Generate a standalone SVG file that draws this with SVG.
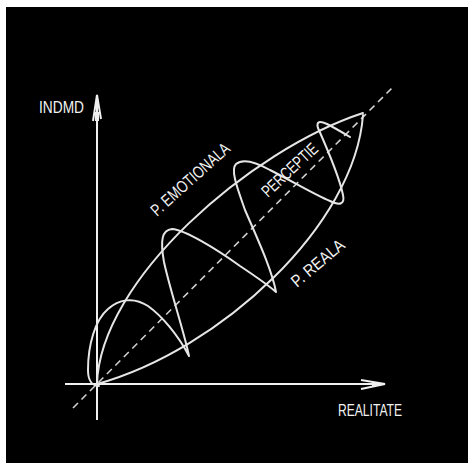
<svg xmlns="http://www.w3.org/2000/svg" width="468" height="463" viewBox="0 0 468 463">
<style>
.ax{stroke:#f0f0f0;stroke-width:2;fill:none}
.cv{stroke:#e6e6e6;stroke-width:2;fill:none;stroke-linejoin:round;stroke-linecap:round}
.ds{stroke:#d0d0d0;stroke-width:1.6;fill:none;stroke-dasharray:7 5}
.t{font-family:"Liberation Sans",Arial,sans-serif;fill:#f2f2f2}
</style>
<rect x="0" y="0" width="468" height="463" fill="#ffffff"/>
<rect x="6" y="7" width="462" height="456" fill="#000000"/>
<g id="connectors">
<line class="ds" x1="73" y1="408" x2="395" y2="85"/>
<line class="ax" x1="97" y1="96" x2="97" y2="420"/>
<line class="ax" x1="65" y1="384" x2="384" y2="384"/>
<path class="ax" d="M93,121 L97,95 L101,119" stroke-width="1.5"/>
<polygon points="95,112 99,112 99,121 95,121" fill="#f0f0f0"/>
<path class="ax" d="M361,380 L385,384 L361,389" stroke-width="1.5"/>
<polygon points="372,382 385,384 372,387" fill="#f0f0f0"/>
</g>
<g id="spindle">
<path class="cv" d="M97,384 C100,280 250,150 363,113"/>
<path class="cv" d="M97,384 C220,350 355,225 363,115"/>
</g>
<g id="wave">
<path class="cv" d="M99,386 C92,386 88,380 88,370 C88,345 95,320 108,309 C118,300 133,296 148,306 C162,316 178,335 189,356 C185,335 170,290 164,262 C160,240 162,230 172,229 C185,230 215,248 240,266 C255,276 268,285 276,292 C272,270 258,240 245,210 C238,190 230,170 236,164 C242,159 252,160 270,170 C290,180 315,195 330,201 C340,206 345,204 343,195 C340,180 330,155 318,128 C316,121 320,121 327,124 C335,128 345,134 350,137"/>
</g>
<g id="labels">
<text class="t" x="39" y="113" font-size="17" textLength="45" lengthAdjust="spacingAndGlyphs">INDMD</text>
<text class="t" x="338" y="416" font-size="17" textLength="64" lengthAdjust="spacingAndGlyphs">REALITATE</text>
<text class="t" font-size="17" textLength="100" lengthAdjust="spacingAndGlyphs" transform="translate(157,217) rotate(-42)">P. EMOTIONALA</text>
<text class="t" font-size="17" textLength="70" lengthAdjust="spacingAndGlyphs" transform="translate(268,198) rotate(-43)">PERCEPTIE</text>
<text class="t" font-size="17" textLength="64" lengthAdjust="spacingAndGlyphs" transform="translate(297,288) rotate(-40)">P. REALA</text>
</g>
</svg>
